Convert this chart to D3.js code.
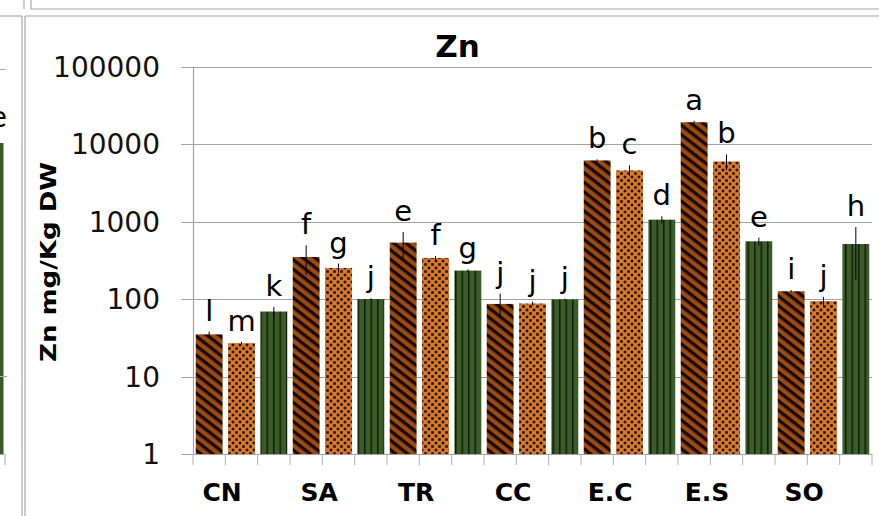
<!DOCTYPE html>
<html>
<head>
<meta charset="utf-8">
<script src="https://cdn.jsdelivr.net/npm/d3@7"></script>
<style>
  html, body { margin: 0; padding: 0; background: #fff; }
  svg { display: block; }
</style>
</head>
<body>
<script>
// ---- data ----
const categories = ["CN", "SA", "TR", "CC", "E.C", "E.S", "SO"];
const seriesNames = ["hatched", "dotted", "green"];
const valuesHatched = [35, 349, 535, 86.5, 6150, 19150, 126];
const valuesDotted  = [27, 252, 339, 87.5, 4570, 5970, 94];
const valuesGreen   = [69, 100, 233, 99, 1058, 556, 513];
const errHatched = [3, 144, 197, 31, 200, 650, 4];
const errDotted  = [1, 35, 20, 4.5, 730, 1370, 12];
const errGreen   = [10, 2, 8, 2, 109, 64, 336];
const lettersHatched = ["l", "f", "e", "j", "b", "a", "i"];
const lettersDotted  = ["m", "g", "f", "j", "c", "b", "j"];
const lettersGreen   = ["k", "j", "g", "j", "d", "e", "h"];
const yTickValues = [1, 10, 100, 1000, 10000, 100000];
const yTickLabels = ["1", "10", "100", "1000", "10000", "100000"];
const titleText = "Zn";
const yTitleText = "Zn mg/Kg DW";

const W = 879, H = 516;
const svg = d3.select("body").append("svg").attr("width", W).attr("height", H);
const defs = svg.append("defs");

// patterns
const hatch = defs.append("pattern").attr("id", "hatch")
  .attr("patternUnits", "userSpaceOnUse").attr("width", 8).attr("height", 7.5)
  .attr("patternTransform", "rotate(38)");
hatch.append("rect").attr("width", 8).attr("height", 7.5).attr("fill", "#9a4a12");
hatch.append("rect").attr("width", 8).attr("height", 3.3).attr("fill", "#1a0a02");

const dots = defs.append("pattern").attr("id", "dots")
  .attr("patternUnits", "userSpaceOnUse").attr("width", 7).attr("height", 7);
dots.append("rect").attr("width", 7).attr("height", 7).attr("fill", "#d67a30");
dots.append("rect").attr("x", 0.7).attr("y", 0.7).attr("width", 2.6).attr("height", 2.6).attr("fill", "#2a1204");
dots.append("rect").attr("x", 4.2).attr("y", 4.2).attr("width", 2.6).attr("height", 2.6).attr("fill", "#2a1204");

const vlines = defs.append("pattern").attr("id", "vlines")
  .attr("patternUnits", "userSpaceOnUse").attr("width", 6.5).attr("height", 10);
vlines.append("rect").attr("width", 6.5).attr("height", 10).attr("fill", "#3b5b29");
vlines.append("rect").attr("x", 0).attr("width", 1.5).attr("height", 10).attr("fill", "#0f1d08");

const fills = { hatched: "url(#hatch)", dotted: "url(#dots)", green: "url(#vlines)" };

// panel borders
const border = "#a8a8a8";
const borders = [
  [24, 0, 24, 9], [31, 0, 31, 9], [31, 9, 879, 9],
  [0, 16, 22, 16], [25, 16, 879, 16],
  [22, 16, 22, 516], [25, 16, 25, 516]
];
svg.append("g").selectAll("line").data(borders).join("line")
  .attr("x1", d => d[0]).attr("y1", d => d[1]).attr("x2", d => d[2]).attr("y2", d => d[3])
  .attr("stroke", border).attr("stroke-width", 1.2);

// left neighbouring panel fragment
const lp = svg.append("g");
lp.append("rect").attr("x", 0).attr("y", 143).attr("width", 3.5).attr("height", 311).attr("fill", "#3b5b29");
lp.append("line").attr("x1", 0).attr("x2", 6).attr("y1", 69.5).attr("y2", 69.5).attr("stroke", "#aaa");
lp.append("line").attr("x1", 0).attr("x2", 7).attr("y1", 376.5).attr("y2", 376.5).attr("stroke", "#aaa");
lp.append("line").attr("x1", 0).attr("x2", 5).attr("y1", 454.5).attr("y2", 454.5).attr("stroke", "#aaa");
lp.append("line").attr("x1", 5).attr("x2", 5).attr("y1", 454).attr("y2", 465).attr("stroke", "#aaa");
lp.append("text").attr("x", 7).attr("y", 127).attr("text-anchor", "end")
  .attr("font-family", "DejaVu Sans").attr("font-size", 28).attr("fill", "#000").text("e");

// scales
const x0 = 193, x1 = 872, yBottom = 454, yTop = 66.6;
const flat = [];
categories.forEach((c, i) => {
  flat.push({ cat: c, s: "hatched", v: valuesHatched[i], e: errHatched[i], l: lettersHatched[i] });
  flat.push({ cat: c, s: "dotted", v: valuesDotted[i], e: errDotted[i], l: lettersDotted[i] });
  flat.push({ cat: c, s: "green", v: valuesGreen[i], e: errGreen[i], l: lettersGreen[i] });
});
flat.forEach((d, i) => d.idx = i);

const x = d3.scaleBand().domain(d3.range(flat.length)).range([x0, x1])
  .paddingInner(0.17).paddingOuter(0.085);
const y = d3.scaleLog().domain([1, 100000]).range([yBottom, yTop]);
const step = (x1 - x0) / flat.length;

// gridlines
const grid = "#a3a3a3";
svg.append("g").selectAll("line").data(yTickValues).join("line")
  .attr("x1", x0 - 12).attr("x2", x1)
  .attr("y1", d => Math.round(y(d)) + 0.5).attr("y2", d => Math.round(y(d)) + 0.5)
  .attr("stroke", grid).attr("stroke-width", 1.2);

// y axis line
svg.append("line").attr("x1", x0 + 0.5).attr("x2", x0 + 0.5).attr("y1", y(100000)).attr("y2", yBottom)
  .attr("stroke", grid).attr("stroke-width", 1.2);

// y tick labels
svg.append("g").selectAll("text").data(yTickValues).join("text")
  .attr("x", 160).attr("y", d => y(d) + 10)
  .attr("text-anchor", "end")
  .attr("font-family", "DejaVu Sans").attr("font-size", 28).attr("fill", "#111")
  .text((d, i) => yTickLabels[i]);

// x tick marks
svg.append("g").selectAll("line").data(d3.range(flat.length + 1)).join("line")
  .attr("x1", i => x0 + i * step).attr("x2", i => x0 + i * step)
  .attr("y1", yBottom).attr("y2", yBottom + 11)
  .attr("stroke", "#b0b0b0").attr("stroke-width", 1);

// bars
svg.append("g").selectAll("rect").data(flat).join("rect")
  .attr("x", d => x(d.idx)).attr("width", x.bandwidth())
  .attr("y", d => y(d.v)).attr("height", d => yBottom - y(d.v))
  .attr("fill", d => fills[d.s]);

// error bars
svg.append("g").selectAll("line").data(flat).join("line")
  .attr("x1", d => x(d.idx) + x.bandwidth() / 2).attr("x2", d => x(d.idx) + x.bandwidth() / 2)
  .attr("y1", d => y(Math.max(d.v - d.e, 1))).attr("y2", d => y(d.v + d.e))
  .attr("stroke", "#000").attr("stroke-width", 1);

// letter labels
svg.append("g").selectAll("text").data(flat).join("text")
  .attr("x", d => x(d.idx) + x.bandwidth() / 2)
  .attr("y", d => y(d.v + d.e) - 11)
  .attr("text-anchor", "middle")
  .attr("font-family", "DejaVu Sans").attr("font-size", 29).attr("fill", "#000")
  .text(d => d.l);

// x axis baseline
svg.append("line").attr("x1", x0).attr("x2", x1).attr("y1", yBottom + 0.5).attr("y2", yBottom + 0.5)
  .attr("stroke", grid).attr("stroke-width", 1.2);

// category labels
svg.append("g").selectAll("text").data(categories).join("text")
  .attr("x", (d, i) => x0 + (3 * i + 0.9) * step)
  .attr("y", 501)
  .attr("text-anchor", "middle")
  .attr("font-family", "DejaVu Sans").attr("font-weight", "bold").attr("font-size", 25).attr("fill", "#000")
  .text(d => d);

// title
svg.append("text").attr("x", 457.5).attr("y", 56.5).attr("text-anchor", "middle")
  .attr("font-family", "DejaVu Sans").attr("font-weight", "bold").attr("font-size", 31).attr("fill", "#000")
  .text(titleText);

// y title
svg.append("text").attr("transform", "translate(56,262) rotate(-90)")
  .attr("text-anchor", "middle")
  .attr("font-family", "DejaVu Sans").attr("font-weight", "bold").attr("font-size", 21).attr("fill", "#000")
  .attr("textLength", 200).attr("lengthAdjust", "spacingAndGlyphs")
  .text(yTitleText);
</script>
</body>
</html>
